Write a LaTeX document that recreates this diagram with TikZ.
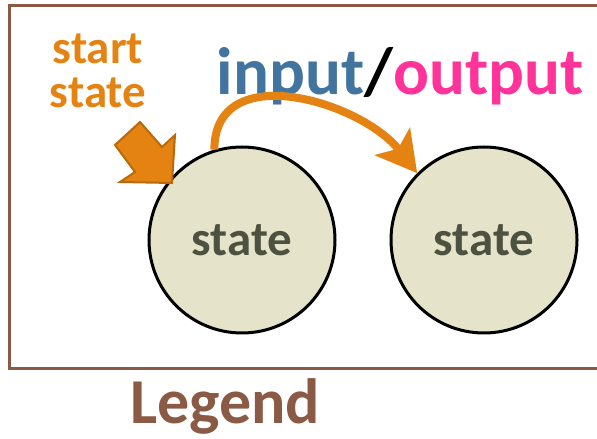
\documentclass[tikz,border=0pt]{standalone}
\usepackage{fontspec}
\setmainfont{Carlito}
\usepackage{tikz}
\usetikzlibrary{arrows.meta}

\definecolor{framebrown}{HTML}{8B5A44}
\definecolor{startorange}{HTML}{E58312}
\definecolor{startedge}{HTML}{B8690C}
\definecolor{inblue}{HTML}{41749E}
\definecolor{outpink}{HTML}{FF3399}
\definecolor{statefill}{HTML}{E5E3C9}
\definecolor{statetext}{HTML}{4D5240}

\tikzset{
  statenode/.style={circle,draw=black,line width=3pt,fill=statefill,minimum size=186pt,
    inner sep=0pt,font=\fontsize{49}{49}\selectfont\bfseries,text=statetext},
  transition/.style={draw=startorange,line width=8pt,
    -{Stealth[length=40pt,width=44pt,inset=9pt]}}
}

\begin{document}
\begin{tikzpicture}[x=1pt,y=1pt]
\useasboundingbox (0,0) rectangle (597,439);
\draw[framebrown,line width=3pt] (9,433) rectangle (640,70);
\node[statenode] (s1) at (242,199) {state};
\node[statenode] (s2) at (484,199) {state};
\node[align=center,inner sep=0pt,text=startorange,
  font=\fontsize{47}{44}\selectfont\bfseries] (startlbl) at (98,368) {start\\state};
% start marker
\filldraw[fill=startorange,draw=startedge,line width=2pt,line join=miter]
  (140,317) -- (162,292) -- (175,304) -- (172,256) -- (120,257) -- (135,267) -- (115,294) -- cycle;
\node[anchor=base,inner sep=0pt,font=\fontsize{67}{67}\selectfont\bfseries] (io) at (400,344)
  {\textcolor{inblue}{input}/\textcolor{outpink}{output}};
\draw[transition] (s1.107) to[out=90,in=128,looseness=1.15] (s2.135);
\node[anchor=base,inner sep=0pt,text=framebrown,font=\fontsize{64}{64}\selectfont\bfseries]
  (legend) at (225,16) {Legend};
\end{tikzpicture}
\end{document}
